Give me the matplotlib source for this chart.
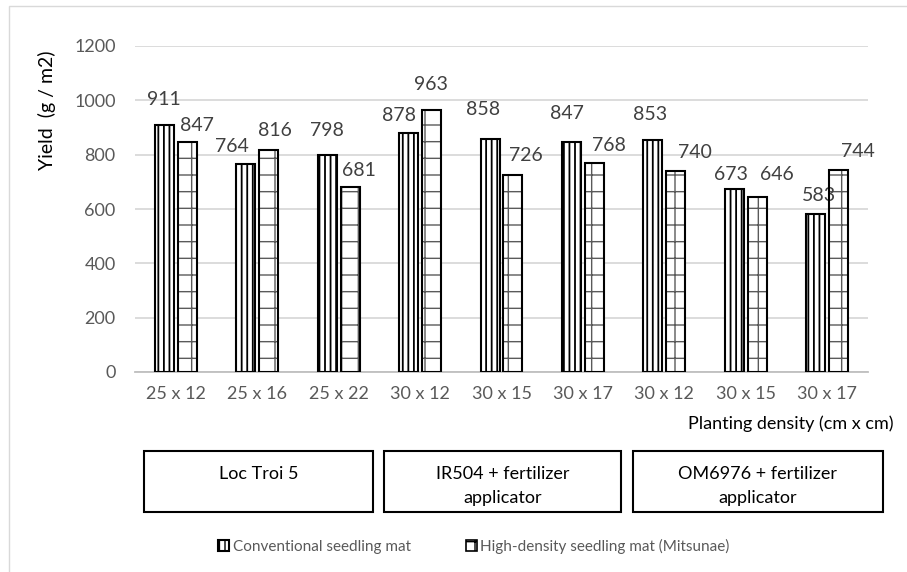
import matplotlib.pyplot as plt
import numpy as np
from matplotlib.patches import Rectangle

plt.rcParams['font.family'] = ['Lato', 'DejaVu Sans']

densities = ['25 x 12', '25 x 16', '25 x 22', '30 x 12', '30 x 15', '30 x 17',
             '30 x 12', '30 x 15', '30 x 17']
conventional = [911, 764, 798, 878, 858, 847, 853, 673, 583]
high_density = [847, 816, 681, 963, 726, 768, 740, 646, 744]
varieties = ['Loc Troi 5', 'IR504 + fertilizer\napplicator', 'OM6976 + fertilizer\napplicator']
series_names = ['Conventional seedling mat', 'High-density seedling mat (Mitsunae)']

# hand-placed data label offsets in pixels: (dx, height above bar top)
conv_label_offsets = [(0, 25), (-14, 18), (0, 25), (-10, 18), (-7, 29),
                      (-5, 28), (-3, 26), (-3, 15), (3, 18)]
high_label_offsets = [(10, 16), (6, 20), (9, 16), (-1, 26), (13, 19),
                      (15, 18), (19, 18), (20, 22), (19, 18)]

W, H = 907, 572
fig = plt.figure(figsize=(W / 100, H / 100), dpi=100)
ax = fig.add_axes([135 / W, 1 - 372 / H, (868 - 135) / W, (372 - 46) / H])

x = np.arange(len(densities))
width = 0.233
shift = 0.141

b1 = ax.bar(x - shift, conventional, width, color='white', edgecolor='black',
            linewidth=1.5, hatch='|||', label=series_names[0], zorder=3)
# dotted-grid look: grey hatch underneath, solid black outline on top
b2 = ax.bar(x + shift, high_density, width, color='white', edgecolor='#5a5a5a',
            linewidth=0, hatch='+', zorder=3)
b2_edge = ax.bar(x + shift, high_density, width, fill=False, edgecolor='black',
                 linewidth=1.5, zorder=4)
for rects, lw in ((b1, 1.3), (b2, 1.0)):
    for r in rects:
        if hasattr(r, 'set_hatch_linewidth'):
            r.set_hatch_linewidth(lw)

px = 0.72  # points per pixel at dpi 100
for rects, offs in ((b1, conv_label_offsets), (b2, high_label_offsets)):
    for rect, (dx, dy) in zip(rects, offs):
        h = rect.get_height()
        ax.annotate(f'{h:.0f}', xy=(rect.get_x() + rect.get_width() / 2, h),
                    xytext=(dx * px, dy * px), textcoords='offset points',
                    ha='center', va='center', fontsize=14, color='#404040')

ax.set_xlim(-0.5, len(densities) - 0.5)
ax.set_ylim(0, 1200)
ax.set_yticks(range(0, 1201, 200))
ax.set_xticks(x)
ax.set_xticklabels(densities)
ax.tick_params(axis='both', length=0, labelsize=13, labelcolor='#595959')
ax.tick_params(axis='y', pad=14)
ax.tick_params(axis='x', pad=10)
ax.grid(axis='y', color='#d9d9d9', linewidth=1.3, zorder=0)
for s in ['top', 'right', 'left']:
    ax.spines[s].set_visible(False)
ax.spines['bottom'].set_color('#bfbfbf')
ax.spines['bottom'].set_linewidth(1.3)

fig.text(47 / W, 1 - 110 / H, 'Yield  (g / m2)', rotation=90, ha='center', va='center',
         fontsize=14, color='black')
fig.text(893 / W, 1 - 424 / H, 'Planting density (cm x cm)', ha='right', va='center',
         fontsize=13, color='black')

# variety boxes under the density groups, one text line every 24 px
boxes = [(144, 373), (384, 621), (633, 883)]
for (x0, x1), name in zip(boxes, varieties):
    fig.add_artist(Rectangle((x0 / W, 1 - 512 / H), (x1 - x0) / W, 61 / H,
                             transform=fig.transFigure, fill=False,
                             edgecolor='black', linewidth=1.5))
    for i, line in enumerate(name.split('\n')):
        fig.text((x0 + x1) / 2 / W, 1 - (474 + 24 * i) / H, line, ha='center',
                 va='center', fontsize=13, color='black')

fig.add_artist(Rectangle((9 / W, -0.01), 1.02, 1 - 6 / H + 0.01,
                         transform=fig.transFigure, fill=False,
                         edgecolor='#d9d9d9', linewidth=1))

leg = fig.legend(handles=[b1, b2], labels=series_names, loc='center',
                 bbox_to_anchor=(474 / W, 1 - 546 / H), ncol=2, frameon=False,
                 fontsize=11, handlelength=0.7, handleheight=0.7,
                 handletextpad=0.25, columnspacing=3.6)
leg.legend_handles[1].set_edgecolor('black')
leg.legend_handles[1].set_linewidth(1.2)
for t in leg.get_texts():
    t.set_color('#595959')

fig.savefig('out.png', dpi=100)
